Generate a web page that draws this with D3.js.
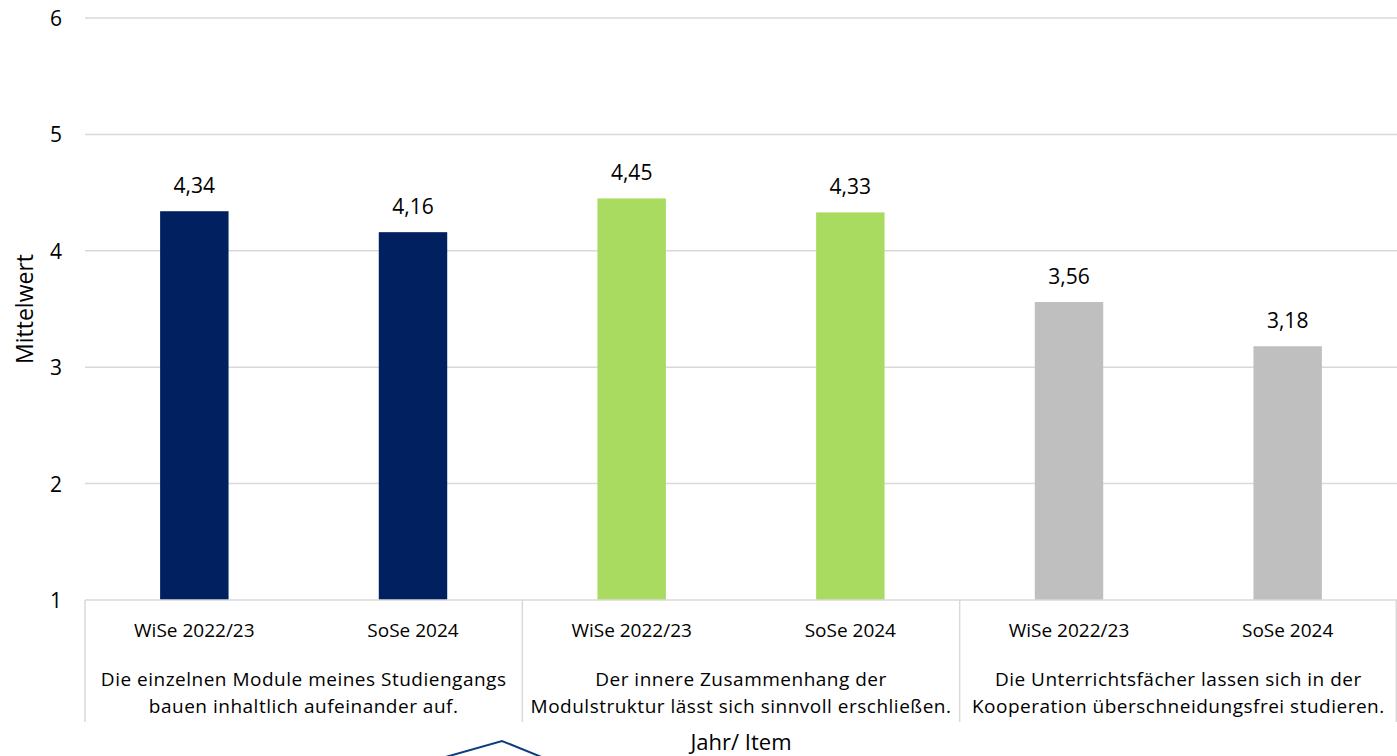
<!DOCTYPE html>
<html lang="de">
<head>
  <meta charset="UTF-8" />
  <title>Mittelwert je Item</title>
  <script src="https://d3js.org/d3.v7.min.js"></script>
  <style>
    body { margin: 0; background: #fff; }
    svg text { font-family: 'Open Sans', 'Noto Sans', sans-serif; fill: #000; }
  </style>
</head>
<body>
<script>
  // data
  const items = [
    ["Die einzelnen Module meines Studiengangs", "bauen inhaltlich aufeinander auf."],
    ["Der innere Zusammenhang der", "Modulstruktur lässt sich sinnvoll erschließen."],
    ["Die Unterrichtsfächer lassen sich in der", "Kooperation überschneidungsfrei studieren."]
  ];
  const terms = ["WiSe 2022/23", "SoSe 2024"];
  const values = [
    [4.34, 4.16],
    [4.45, 4.33],
    [3.56, 3.18]
  ];
  const colors = ["#002060", "#a9db60", "#bfbfbf"];
  const yTicks = [1, 2, 3, 4, 5, 6];

  const width = 1397, height = 756;
  const m = { left: 85, right: 1397, top: 18, bottom: 600 };

  const svg = d3.select("body").append("svg")
    .attr("width", width)
    .attr("height", height);

  const y = d3.scaleLinear().domain([1, 6]).range([m.bottom, m.top]);
  const x0 = d3.scaleBand().domain(d3.range(items.length)).range([m.left, m.right]);
  const x1 = d3.scaleBand().domain(d3.range(terms.length)).range([0, x0.bandwidth()]);
  const barW = x1.bandwidth() * 0.313;

  // gridlines
  svg.append("g").selectAll("line")
    .data(yTicks.slice(1))
    .join("line")
    .attr("x1", m.left).attr("x2", m.right)
    .attr("y1", d => y(d)).attr("y2", d => y(d))
    .attr("stroke", "#d9d9d9").attr("stroke-width", 1.5);

  // y tick labels
  svg.append("g").selectAll("text")
    .data(yTicks)
    .join("text")
    .attr("x", 62)
    .attr("y", d => y(d) + 8)
    .attr("text-anchor", "end")
    .attr("font-size", 21)
    .text(d => d);

  // bars + labels
  const groups = svg.append("g").selectAll("g")
    .data(values)
    .join("g")
    .attr("transform", (d, i) => `translate(${x0(i)},0)`);

  groups.selectAll("rect")
    .data((d, i) => d.map(v => ({ v, c: colors[i] })))
    .join("rect")
    .attr("x", (d, j) => x1(j) + x1.bandwidth() / 2 - barW / 2)
    .attr("y", d => y(d.v))
    .attr("width", barW)
    .attr("height", d => y(1) - y(d.v))
    .attr("fill", d => d.c);

  groups.selectAll("text.val")
    .data(d => d)
    .join("text")
    .attr("class", "val")
    .attr("x", (d, j) => x1(j) + x1.bandwidth() / 2)
    .attr("y", d => y(d) - 18)
    .attr("text-anchor", "middle")
    .attr("font-size", 21)
    .text(d => d.toFixed(2).replace(".", ","));

  // axis line and separators
  svg.append("line")
    .attr("x1", m.left).attr("x2", m.right)
    .attr("y1", m.bottom).attr("y2", m.bottom)
    .attr("stroke", "#d9d9d9").attr("stroke-width", 1.5);

  svg.append("g").selectAll("line")
    .data(d3.range(items.length + 1))
    .join("line")
    .attr("x1", i => i < items.length ? x0(i) : m.right - 0.75)
    .attr("x2", i => i < items.length ? x0(i) : m.right - 0.75)
    .attr("y1", m.bottom).attr("y2", 722)
    .attr("stroke", "#d9d9d9").attr("stroke-width", 1.5);

  // term labels
  groups.selectAll("text.term")
    .data(terms)
    .join("text")
    .attr("class", "term")
    .attr("x", (d, j) => x1(j) + x1.bandwidth() / 2)
    .attr("y", 637)
    .attr("text-anchor", "middle")
    .attr("font-size", 19)
    .text(d => d);

  // item labels
  groups.each(function (d, i) {
    const t = d3.select(this).append("text")
      .attr("text-anchor", "middle")
      .attr("font-size", 19)
      .attr("letter-spacing", 0.5);
    items[i].forEach((line, k) => {
      t.append("tspan")
        .attr("x", x0.bandwidth() / 2)
        .attr("y", 686 + k * 27)
        .text(line);
    });
  });

  // axis titles
  svg.append("text")
    .attr("transform", `translate(33,${(m.top + m.bottom) / 2}) rotate(-90)`)
    .attr("text-anchor", "middle")
    .attr("font-size", 23)
    .text("Mittelwert");

  svg.append("text")
    .attr("x", (m.left + m.right) / 2)
    .attr("y", 750)
    .attr("text-anchor", "middle")
    .attr("font-size", 22)
    .text("Jahr/ Item");

  // cut-off logo outline at bottom
  svg.append("path")
    .attr("d", "M442,758 L502,741 L544,758")
    .attr("fill", "none")
    .attr("stroke", "#0b3d7d")
    .attr("stroke-width", 2);
</script>
</body>
</html>
